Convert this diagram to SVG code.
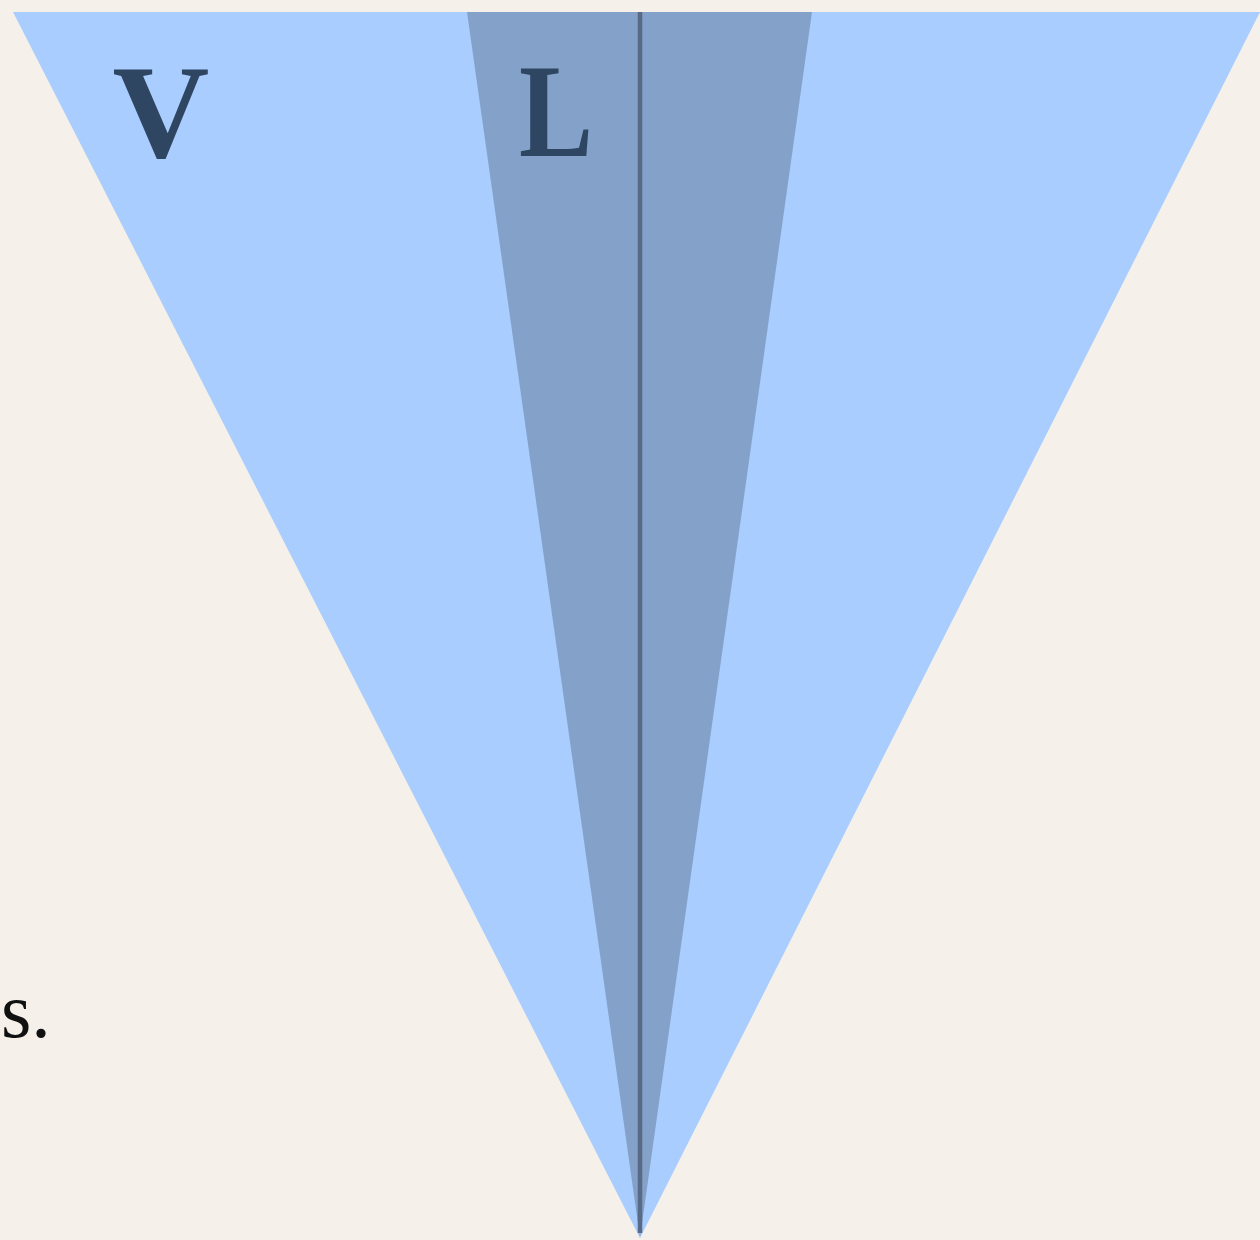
<svg xmlns="http://www.w3.org/2000/svg" width="1260" height="1240" viewBox="0 0 1260 1240">
<style>
.lbl{font-family:"Liberation Serif","Times New Roman",serif;font-weight:bold;fill:#2f4662}
.txt{font-family:"Liberation Serif","Times New Roman",serif;fill:#111}
</style>
<rect width="1260" height="1240" fill="#f5f1ea"/>
<g id="outer-cone">
<polygon points="13,12 1260,12 640,1238" fill="#a8cdfe"/>
</g>
<g id="inner-cone">
<polygon points="467,12 812,12 640,1238" fill="#84a2c9"/>
</g>
<g id="axis">
<line x1="640" y1="12" x2="640" y2="1233" stroke="#586a85" stroke-width="4.5"/>
</g>
<text class="lbl" x="161" y="157" font-size="134" text-anchor="middle">V</text>
<text class="lbl" x="519" y="156" font-size="134" textLength="74" lengthAdjust="spacingAndGlyphs">L</text>
<text class="txt" x="1" y="1037" font-size="78">s.</text>
</svg>
